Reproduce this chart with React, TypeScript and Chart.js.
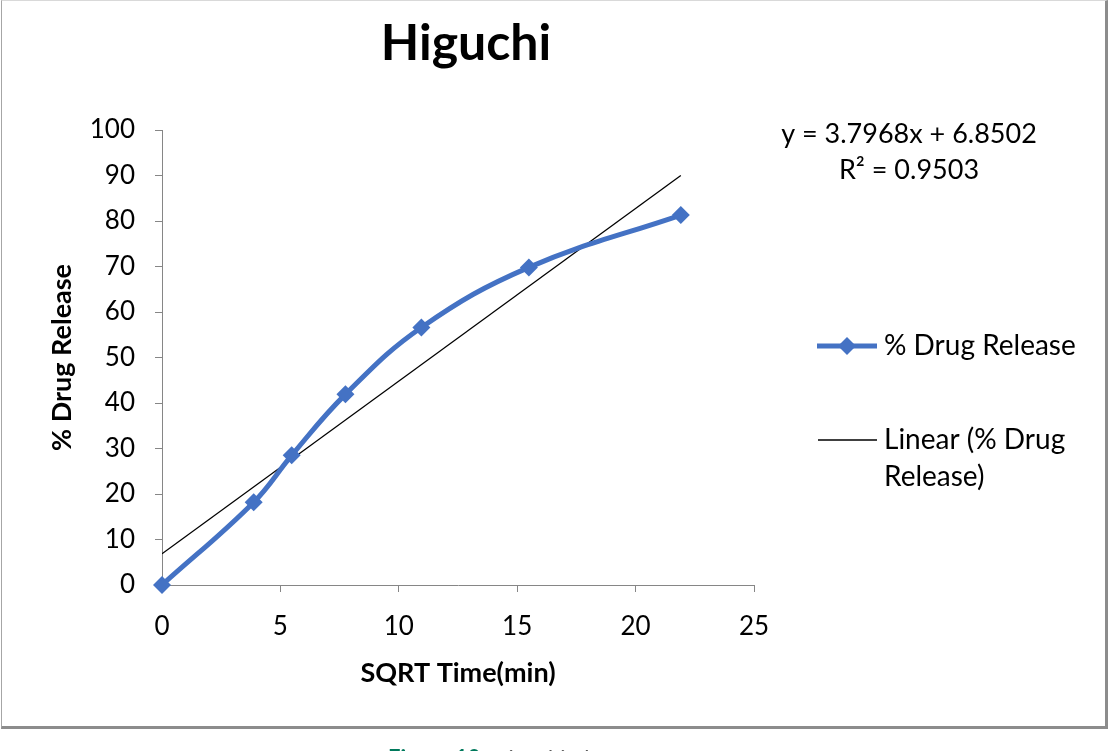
import { useEffect, useRef } from 'react'
import { Chart, registerables } from 'chart.js'

Chart.register(...registerables)

// SQRT of sampling times (0, 15, 30, 60, 120, 240, 480 min)
const sqrtTime = [0, 3.873, 5.477, 7.746, 10.954, 15.492, 21.909]
const drugRelease = [0, 18.2, 28.5, 41.9, 56.6, 69.8, 81.3]

// trendline end points
const trendX = [0, 21.909]
const trendY = [6.85, 90.0]

const equationLines = ['y = 3.7968x + 6.8502', 'R² = 0.9503']
const legendLabels = ['% Drug Release', 'Linear (% Drug', 'Release)']

const FONT = 'Lato, "Open Sans", sans-serif'
const BLUE = '#4472C4'
const AXIS = '#868686'

const annotations = {
  id: 'annotations',
  afterDraw(chart: Chart) {
    const ctx = chart.ctx
    const area = chart.chartArea
    ctx.save()
    ctx.fillStyle = '#000'
    ctx.textBaseline = 'middle'

    // title
    ctx.textAlign = 'center'
    ctx.font = `bold 50px ${FONT}`
    ctx.fillText('Higuchi', 466, 44)

    // axis titles
    ctx.font = `bold 27px ${FONT}`
    ctx.fillText('SQRT Time(min)', (area.left + area.right) / 2, 673)
    ctx.save()
    ctx.translate(62, (area.top + area.bottom) / 2)
    ctx.rotate(-Math.PI / 2)
    ctx.fillText('% Drug Release', 0, 0)
    ctx.restore()

    // trendline equation
    ctx.font = `27px ${FONT}`
    ctx.fillText(equationLines[0], 909, 134)
    ctx.fillText(equationLines[1], 909, 170)

    // legend
    ctx.textAlign = 'left'
    ctx.strokeStyle = BLUE
    ctx.lineWidth = 5
    ctx.beginPath()
    ctx.moveTo(817, 346)
    ctx.lineTo(877, 346)
    ctx.stroke()
    ctx.fillStyle = BLUE
    ctx.beginPath()
    ctx.moveTo(847, 337)
    ctx.lineTo(856, 346)
    ctx.lineTo(847, 355)
    ctx.lineTo(838, 346)
    ctx.closePath()
    ctx.fill()

    ctx.strokeStyle = '#000'
    ctx.lineWidth = 1.3
    ctx.beginPath()
    ctx.moveTo(818, 440)
    ctx.lineTo(877, 440)
    ctx.stroke()

    ctx.fillStyle = '#000'
    ctx.font = `28px ${FONT}`
    ctx.fillText(legendLabels[0], 884, 346)
    ctx.fillText(legendLabels[1], 884, 440)
    ctx.fillText(legendLabels[2], 884, 477)
    ctx.restore()
  }
}

const HiguchiChart = () => {
  const canvasRef = useRef<HTMLCanvasElement>(null)

  useEffect(() => {
    if (!canvasRef.current) return
    const chart = new Chart(canvasRef.current, {
      type: 'line',
      data: {
        datasets: [
          {
            label: '% Drug Release',
            data: sqrtTime.map((x, i) => ({ x, y: drugRelease[i] })),
            borderColor: BLUE,
            backgroundColor: BLUE,
            borderWidth: 5,
            tension: 0.4,
            pointStyle: 'rectRot',
            pointRadius: 9,
            pointBorderWidth: 0,
            pointBackgroundColor: BLUE,
            clip: false
          },
          {
            label: 'Linear (% Drug Release)',
            data: trendX.map((x, i) => ({ x, y: trendY[i] })),
            borderColor: '#000',
            borderWidth: 1.3,
            pointRadius: 0,
            tension: 0
          }
        ]
      },
      options: {
        animation: false,
        responsive: true,
        maintainAspectRatio: false,
        layout: { padding: { top: 130, right: 355, bottom: 0, left: 0 } },
        plugins: {
          legend: { display: false },
          title: { display: false },
          tooltip: { enabled: false }
        },
        scales: {
          x: {
            type: 'linear',
            min: 0,
            max: 25,
            ticks: {
              stepSize: 5,
              color: '#000',
              font: { family: FONT, size: 26 },
              padding: 19
            },
            grid: { drawOnChartArea: false, tickLength: 7, color: AXIS },
            border: { color: AXIS, width: 1 },
            afterFit: (scale: any) => {
              scale.height = 166
            }
          },
          y: {
            min: 0,
            max: 100,
            ticks: {
              stepSize: 10,
              color: '#000',
              font: { family: FONT, size: 26 },
              padding: 20
            },
            grid: { drawOnChartArea: false, tickLength: 7, color: AXIS },
            border: { color: AXIS, width: 1 },
            afterFit: (scale: any) => {
              scale.width = 162
            }
          }
        }
      },
      plugins: [annotations]
    })
    return () => chart.destroy()
  }, [])

  return (
    <div style={{ position: 'absolute', left: 0, top: 0, width: 1109, height: 751 }}>
      <canvas ref={canvasRef}></canvas>
    </div>
  )
}

const App = () => {
  return (
    <div
      style={{
        position: 'fixed',
        left: 0,
        top: 0,
        width: 1109,
        height: 751,
        overflow: 'hidden',
        background: '#fff',
        fontFamily: FONT
      }}
    >
      <HiguchiChart />
      <div
        style={{
          position: 'absolute',
          left: 1,
          top: 0,
          width: 1103,
          height: 725,
          borderLeft: '1px solid #a6a6a6',
          borderTop: '1px solid #d9d9d9',
          borderRight: '3px solid #8c8c8c',
          borderBottom: '3px solid #8c8c8c',
          pointerEvents: 'none'
        }}
      ></div>
      <div
        style={{
          position: 'absolute',
          left: 388,
          top: 747,
          fontSize: 22,
          lineHeight: '22px',
          color: '#595959',
          whiteSpace: 'nowrap'
        }}
      >
        <span style={{ color: '#00795C', fontWeight: 'bold' }}>Figure 10:</span> Higuchi Plot
      </div>
    </div>
  )
}

export default App
